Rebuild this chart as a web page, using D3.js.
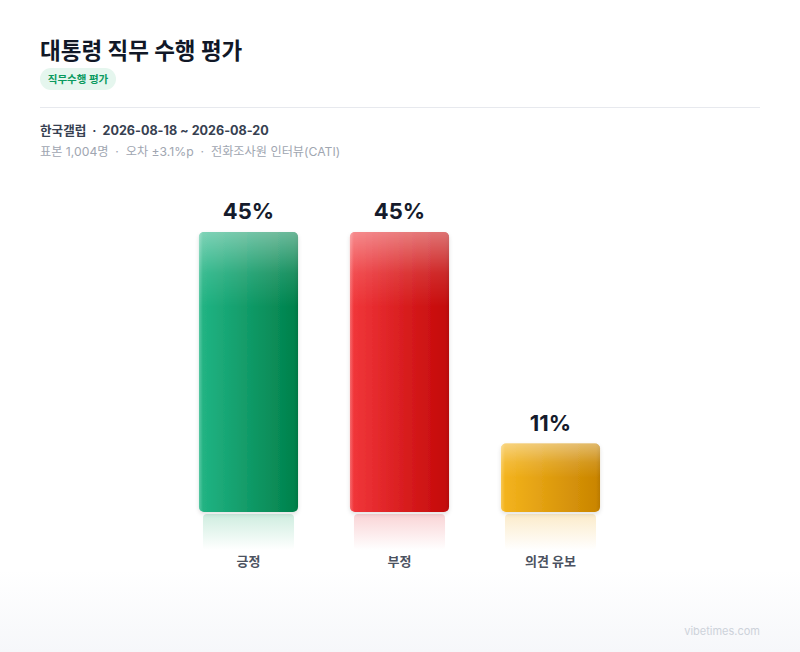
<!DOCTYPE html>
<html>
<head>
<meta charset="utf-8">
<script src="https://d3js.org/d3.v7.min.js"></script>
<style>
  body { margin: 0; background: #fff; }
  svg text { font-family: Inter, "Noto Sans CJK KR", sans-serif; white-space: pre; }
</style>
</head>
<body>
<div id="chart"></div>
<script>
  // chart data
  var categories = ["긍정", "부정", "의견 유보"];
  var values = [45, 45, 11];
  var valueLabels = ["45%", "45%", "11%"];
  var colorsLeft = ["#22b585", "#f2373b", "#f5b51e"];
  var colorsRight = ["#00804a", "#c30808", "#c98400"];
  var reflectColors = ["#c9ebdc", "#f9cfd1", "#fbe9c4"];

  var width = 800, height = 652;

  var svg = d3.select("#chart").append("svg")
    .attr("width", width).attr("height", height);

  var defs = svg.append("defs");

  // bottom fade of the card
  var bgGrad = defs.append("linearGradient").attr("id", "bgFade")
    .attr("x1", 0).attr("y1", 0).attr("x2", 0).attr("y2", 1);
  bgGrad.append("stop").attr("offset", "0%").attr("stop-color", "#ffffff");
  bgGrad.append("stop").attr("offset", "100%").attr("stop-color", "#f6f7fa");
  svg.append("rect").attr("x", 0).attr("y", 570).attr("width", width).attr("height", 82)
    .attr("fill", "url(#bgFade)");

  // header
  svg.append("text").attr("x", 40).attr("y", 59)
    .attr("font-size", 22.5).attr("font-weight", 700).attr("fill", "#111827")
    .text("대통령 직무 수행 평가");

  svg.append("rect").attr("x", 40).attr("y", 68).attr("width", 76).attr("height", 22)
    .attr("rx", 11).attr("fill", "#e5f6ee");
  svg.append("text").attr("x", 78).attr("y", 83).attr("text-anchor", "middle")
    .attr("font-size", 10.5).attr("font-weight", 700).attr("fill", "#0a9a5e")
    .text("직무수행 평가");

  svg.append("line").attr("x1", 40).attr("x2", 760).attr("y1", 107.5).attr("y2", 107.5)
    .attr("stroke", "#e7e9ee").attr("stroke-width", 1);

  svg.append("text").attr("x", 40).attr("y", 135)
    .attr("font-size", 12.6).attr("font-weight", 700).attr("fill", "#374151")
    .text("한국갤럽  ·  2026-08-18 ~ 2026-08-20");

  svg.append("text").attr("x", 40).attr("y", 156)
    .attr("font-size", 12.2).attr("fill", "#a0a6b1")
    .text("표본 1,004명  ·  오차 ±3.1%p  ·  전화조사원 인터뷰(CATI)");

  // scales
  var x = d3.scaleBand().domain(categories).range([173, 626])
    .paddingInner(0.344).paddingOuter(0.172);
  var y = d3.scaleLinear().domain([0, 45]).range([512, 232]);

  // gradients per bar
  categories.forEach(function(c, i) {
    var g = defs.append("linearGradient").attr("id", "bar" + i)
      .attr("x1", 0).attr("y1", 0).attr("x2", 1).attr("y2", 0);
    g.append("stop").attr("offset", "0%").attr("stop-color", colorsLeft[i]);
    g.append("stop").attr("offset", "100%").attr("stop-color", colorsRight[i]);

    var r = defs.append("linearGradient").attr("id", "refl" + i)
      .attr("x1", 0).attr("y1", 0).attr("x2", 0).attr("y2", 1);
    r.append("stop").attr("offset", "0%").attr("stop-color", reflectColors[i]).attr("stop-opacity", 0.9);
    r.append("stop").attr("offset", "100%").attr("stop-color", reflectColors[i]).attr("stop-opacity", 0);
  });

  var gloss = defs.append("linearGradient").attr("id", "gloss")
    .attr("x1", 0).attr("y1", 0).attr("x2", 0).attr("y2", 1);
  gloss.append("stop").attr("offset", "0%").attr("stop-color", "#fff").attr("stop-opacity", 0.42);
  gloss.append("stop").attr("offset", "55%").attr("stop-color", "#fff").attr("stop-opacity", 0.12);
  gloss.append("stop").attr("offset", "100%").attr("stop-color", "#fff").attr("stop-opacity", 0);

  var sideShine = defs.append("linearGradient").attr("id", "side")
    .attr("x1", 0).attr("y1", 0).attr("x2", 1).attr("y2", 0);
  sideShine.append("stop").attr("offset", "0%").attr("stop-color", "#fff").attr("stop-opacity", 0.25);
  sideShine.append("stop").attr("offset", "4%").attr("stop-color", "#fff").attr("stop-opacity", 0);
  sideShine.append("stop").attr("offset", "96%").attr("stop-color", "#000").attr("stop-opacity", 0);
  sideShine.append("stop").attr("offset", "100%").attr("stop-color", "#000").attr("stop-opacity", 0.08);

  var shadow = defs.append("filter").attr("id", "shadow")
    .attr("x", "-20%").attr("y", "-20%").attr("width", "140%").attr("height", "140%");
  shadow.append("feDropShadow").attr("dx", 0).attr("dy", 2).attr("stdDeviation", 2)
    .attr("flood-color", "#000").attr("flood-opacity", 0.12);

  var bars = svg.selectAll(".bar").data(values).enter().append("g").attr("class", "bar");

  // reflections
  bars.append("rect")
    .attr("x", function(d, i) { return x(categories[i]) + 4; })
    .attr("y", 514)
    .attr("width", x.bandwidth() - 8)
    .attr("height", 36)
    .attr("rx", 4)
    .attr("fill", function(d, i) { return "url(#refl" + i + ")"; });

  bars.append("rect")
    .attr("x", function(d, i) { return x(categories[i]); })
    .attr("y", function(d) { return y(d); })
    .attr("width", x.bandwidth())
    .attr("height", function(d) { return y(0) - y(d); })
    .attr("rx", 5)
    .attr("filter", "url(#shadow)")
    .attr("fill", function(d, i) { return "url(#bar" + i + ")"; });

  bars.append("rect")
    .attr("x", function(d, i) { return x(categories[i]); })
    .attr("y", function(d) { return y(d); })
    .attr("width", x.bandwidth())
    .attr("height", function(d) { return y(0) - y(d); })
    .attr("rx", 5)
    .attr("fill", "url(#side)");

  bars.append("rect")
    .attr("x", function(d, i) { return x(categories[i]); })
    .attr("y", function(d) { return y(d); })
    .attr("width", x.bandwidth())
    .attr("height", function(d) { return Math.min((y(0) - y(d)) * 0.5, 75); })
    .attr("rx", 5)
    .attr("fill", "url(#gloss)");

  // value labels
  bars.append("text")
    .attr("x", function(d, i) { return x(categories[i]) + x.bandwidth() / 2; })
    .attr("y", function(d) { return y(d) - 13; })
    .attr("text-anchor", "middle")
    .attr("font-size", 22).attr("font-weight", 700).attr("fill", "#151b2c")
    .text(function(d, i) { return valueLabels[i]; });

  // category axis labels
  var xAxis = d3.axisBottom(x).tickSize(0).tickPadding(0);
  var ax = svg.append("g").attr("transform", "translate(0,557)").call(xAxis);
  ax.select(".domain").remove();
  ax.selectAll("text")
    .attr("font-size", 13).attr("font-weight", 700).attr("fill", "#4b5260")
    .attr("font-family", "Inter, 'Noto Sans CJK KR', sans-serif");

  svg.append("text").attr("x", 760).attr("y", 635).attr("text-anchor", "end")
    .attr("font-size", 11).attr("fill", "#cdd2da")
    .text("vibetimes.com");
</script>
</body>
</html>
